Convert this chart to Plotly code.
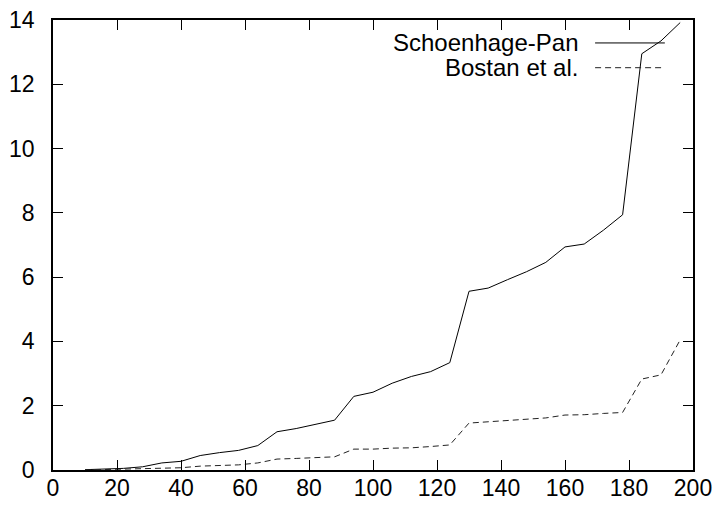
import plotly.graph_objects as go

# Data
n_values = [10, 16, 22, 28, 34, 40, 46, 52, 58, 64, 70, 76, 82, 88, 94, 100,
            106, 112, 118, 124, 130, 136, 142, 148, 154, 160, 166, 172, 178,
            184, 190, 196]
schoenhage_pan = [0.01, 0.02, 0.05, 0.1, 0.22, 0.27, 0.45, 0.54, 0.61, 0.76,
                  1.19, 1.29, 1.41, 1.55, 2.29, 2.42, 2.7, 2.91, 3.06, 3.34,
                  5.56, 5.66, 5.92, 6.17, 6.46, 6.94, 7.03, 7.46, 7.94, 12.95,
                  13.35, 13.92]
bostan = [0.0, 0.01, 0.02, 0.03, 0.05, 0.07, 0.12, 0.14, 0.16, 0.22, 0.34,
          0.36, 0.38, 0.41, 0.65, 0.65, 0.68, 0.69, 0.73, 0.78, 1.46, 1.5,
          1.53, 1.56, 1.62, 1.71, 1.72, 1.76, 1.79, 2.83, 2.96, 4.05]
series_names = ["Schoenhage-Pan", "Bostan et al."]
x_ticks = [0, 20, 40, 60, 80, 100, 120, 140, 160, 180, 200]
y_ticks = [0, 2, 4, 6, 8, 10, 12, 14]

FONT = "Liberation Sans, Arial, Helvetica, sans-serif"
FS = 23
DASH = "6px,4px"

fig = go.Figure()
fig.add_trace(go.Scatter(x=n_values, y=schoenhage_pan, mode="lines",
                         name=series_names[0],
                         line=dict(color="black", width=1)))
fig.add_trace(go.Scatter(x=n_values, y=bostan, mode="lines",
                         name=series_names[1],
                         line=dict(color="#222222", width=1, dash=DASH)))

axis_common = dict(showgrid=False, zeroline=False, showline=True,
                   linecolor="black", linewidth=1.5, mirror="allticks",
                   ticks="inside", ticklen=10, tickwidth=1.3,
                   tickcolor="black", automargin=False,
                   tickfont=dict(family=FONT, size=FS, color="black"))

fig.update_xaxes(range=[0, 200], tickvals=x_ticks, ticklabelstandoff=-3,
                 **axis_common)
fig.update_yaxes(range=[0, 14], tickvals=y_ticks, ticklabelstandoff=12,
                 **axis_common)

# Legend drawn gnuplot-style: right-aligned text with sample line to its right
legend_y = [0.949, 0.894]
dashes = ["solid", DASH]
for name, ly, d in zip(series_names, legend_y, dashes):
    fig.add_annotation(xref="paper", yref="paper", x=0.823, y=ly,
                       text=name, showarrow=False, xanchor="right",
                       yanchor="middle",
                       font=dict(family=FONT, size=FS + 1, color="black"))
    fig.add_shape(type="line", xref="paper", yref="paper",
                  x0=0.847, x1=0.956, y0=ly, y1=ly,
                  line=dict(color="black" if d == "solid" else "#222222",
                            width=1, dash=d))

fig.update_layout(width=714, height=506, showlegend=False,
                  plot_bgcolor="white", paper_bgcolor="white",
                  margin=dict(l=53, r=21, t=20, b=36),
                  font=dict(family=FONT, color="black"))

fig.write_html("out.html", config={"displayModeBar": False},
               post_script="document.body.style.margin='0px';"
                           "document.body.style.overflow='hidden';")
